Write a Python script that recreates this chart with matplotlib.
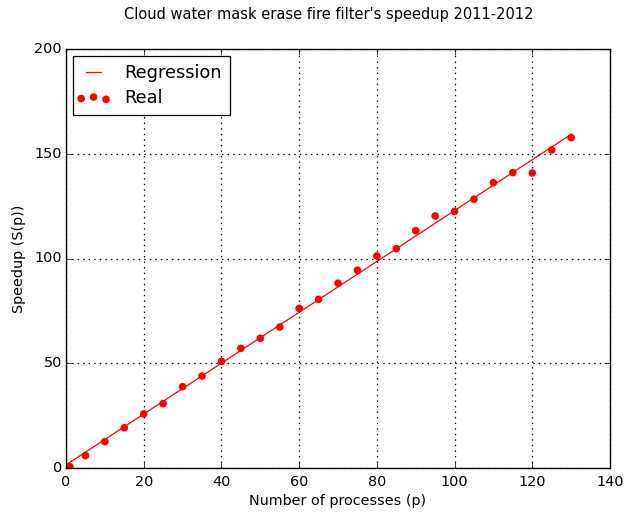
import numpy as np
import matplotlib
matplotlib.use("Agg")
import matplotlib.pyplot as plt
from matplotlib.legend_handler import HandlerPathCollection

plt.style.use('classic')

processes = [1, 5, 10, 15, 20, 25, 30, 35, 40, 45, 50, 55, 60, 65, 70, 75,
             80, 85, 90, 95, 100, 105, 110, 115, 120, 125, 130]
speedup = [0.6, 5.9, 12.6, 19.2, 25.8, 30.7, 38.8, 43.9, 50.9, 57.1, 61.9,
           67.3, 76.2, 80.5, 88.2, 94.4, 101.2, 104.7, 113.3, 120.3, 122.5,
           128.3, 136.2, 141.0, 140.8, 151.8, 157.7]

title = "Cloud water mask erase fire filter's speedup 2011-2012"
xlabel = "Number of processes (p)"
ylabel = "Speedup (S(p))"

fig = plt.figure(figsize=(6.41, 5.18), dpi=100, facecolor='white')
ax = fig.add_axes([66/641, 1-468/518, (610-66)/641, (468-49)/518])
ax.set_facecolor('white')

coef = np.polyfit(processes, speedup, 1)
xs = np.array([0, max(processes)])
line, = ax.plot(xs, np.polyval(coef, xs), color='red', lw=0.9, label='Regression')
sc = ax.scatter(processes, speedup, s=30, color='red', edgecolors='none', label='Real')

ax.set_xlim(0, 140)
ax.set_ylim(0, 200)
ax.set_xticks(range(0, 141, 20))
ax.set_yticks(range(0, 201, 50))
ax.grid(True, color='black', linestyle=':', linewidth=0.9)
ax.tick_params(labelsize=10.4)
ax.tick_params(axis='x', pad=5)
ax.tick_params(axis='y', pad=3)
ax.set_xlabel(xlabel, fontsize=10.4, labelpad=4)
ax.set_ylabel(ylabel, fontsize=10.4, labelpad=6)
fig.text(328.5/641, 1 - 14/518, title, ha='center', va='center', fontsize=10.5)

leg = ax.legend(loc='upper left', fontsize=12.8, scatterpoints=3,
                scatteryoffsets=[0.375, 0.5, 0.3125],
                handlelength=1.4, handletextpad=1.05, borderpad=0.45,
                borderaxespad=0.4, labelspacing=0.4,
                handler_map={sc: HandlerPathCollection(marker_pad=0.0,
                                                       sizes=[30, 30, 30])})
leg.get_frame().set_edgecolor('black')
leg.get_frame().set_linewidth(0.9)

fig.savefig('out.png', dpi=100, facecolor='white')
